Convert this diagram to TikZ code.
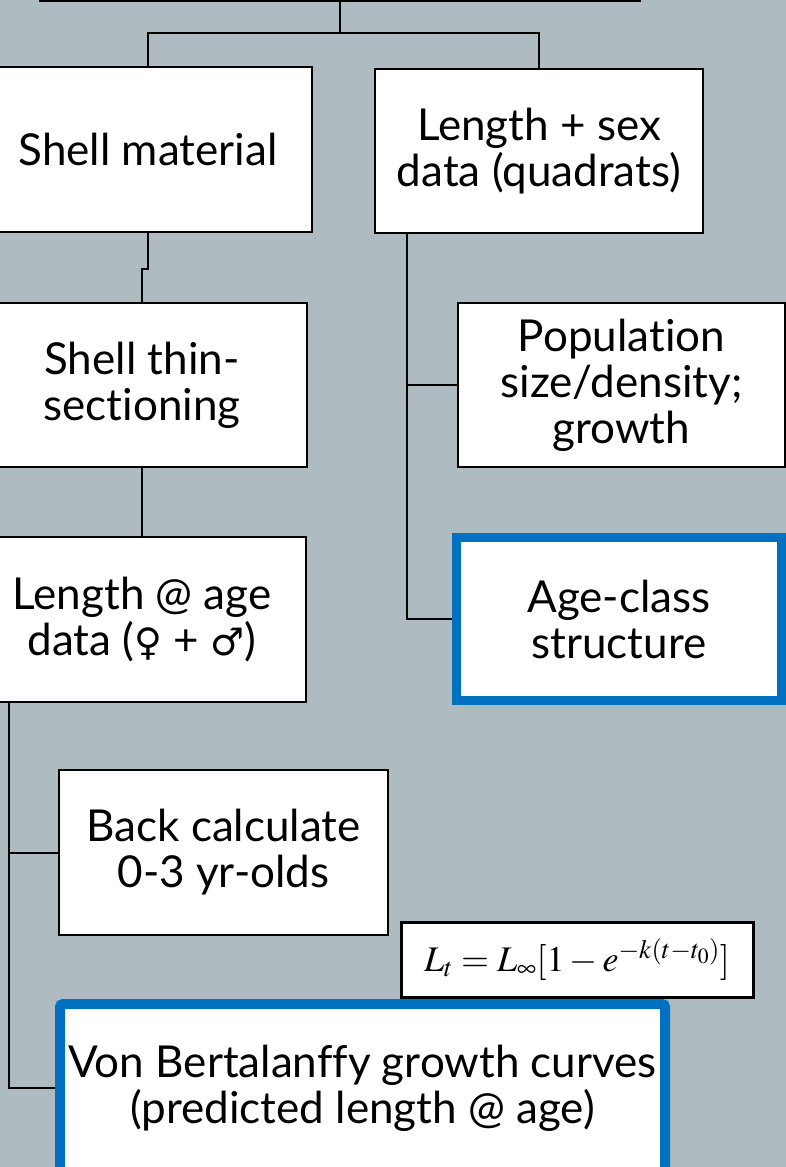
\documentclass[tikz,border=0pt]{standalone}
\usepackage{mathptmx}
\usepackage{fontspec}
\setmainfont{Lato}[Ligatures={NoCommon}]
\newfontfamily\symfont{DejaVu Sans}
\usetikzlibrary{calc}
\definecolor{bgcol}{RGB}{174,188,193}
\definecolor{hiblue}{RGB}{0,112,192}
\tikzset{
  box/.style={draw=black, fill=white, line width=2.5pt, align=center,
    inner sep=0pt, font=\fontsize{44}{46}\selectfont},
  hibox/.style={box, draw=hiblue, line width=9pt},
  conn/.style={draw=black, line width=2pt},
}
\newcommand{\sexsym}[1]{{\symfont\fontsize{38}{46}\selectfont #1}}
\begin{document}
\begin{tikzpicture}[x=1pt,y=-1pt]
\useasboundingbox (0,0) rectangle (786,1167);
\clip (0,0) rectangle (786,1167);
\fill[bgcol] (0,0) rectangle (786,1167);

% boxes (centres and sizes in px)
\node[box, minimum width=600pt, minimum height=80pt] (top) at (340,-39) {};
\node[box, minimum width=328pt, minimum height=165pt] (shell) at (148,149.5) {Shell material};
\node[box, minimum width=328pt, minimum height=164pt] (lensex) at (539,151) {Length + sex\\data (quadrats)};
\node[box, minimum width=330pt, minimum height=164pt] (thin) at (142,385) {Shell thin-\\sectioning};
\node[box, minimum width=327pt, minimum height=164pt] (pop) at (621.5,385) {Population\\size/density;\\growth};
\node[box, minimum width=328pt, minimum height=165pt] (lenage) at (142,619.5) {Length @ age\\data (\sexsym{♀} + \sexsym{♂})};
\node[hibox, minimum width=325pt, minimum height=163pt] (age) at (619,619) {Age-class\\structure};
\node[box, minimum width=329pt, minimum height=165pt] (back) at (223.5,852.5) {Back calculate\\0-3 yr-olds};
\node[box, line width=3pt, minimum width=352pt, minimum height=75pt, font=\fontsize{36}{40}\selectfont] (formula) at (577,959.5) {$L_t = L_\infty[1 - e^{-k(t-t_0)}]$};
\node[hibox, line width=10pt, rounded corners=3pt, minimum width=605pt, minimum height=168pt] (vb) at (362.5,1088) {Von Bertalanffy growth curves\\(predicted length @ age)};

% connectors
\coordinate (j1) at (340,33);
\draw[conn] (top.south) -- (j1);
\draw[conn] (j1) -| (shell.north);
\draw[conn] (j1) -| (lensex.north);

\draw[conn] (shell.south) -- ++(0,36) coordinate (j2) -| (thin.north);
\draw[conn] (thin.south) -- (lenage.north);

\draw[conn] (lensex.south west) ++(33,0) coordinate (rt) |- (age.west);
\draw[conn] (rt |- pop.west) -- (pop.west);

\draw[conn] (lenage.south west) ++(32,0) coordinate (lt) |- (vb.west);
\draw[conn] (lt |- back.west) -- (back.west);
\end{tikzpicture}
\end{document}
